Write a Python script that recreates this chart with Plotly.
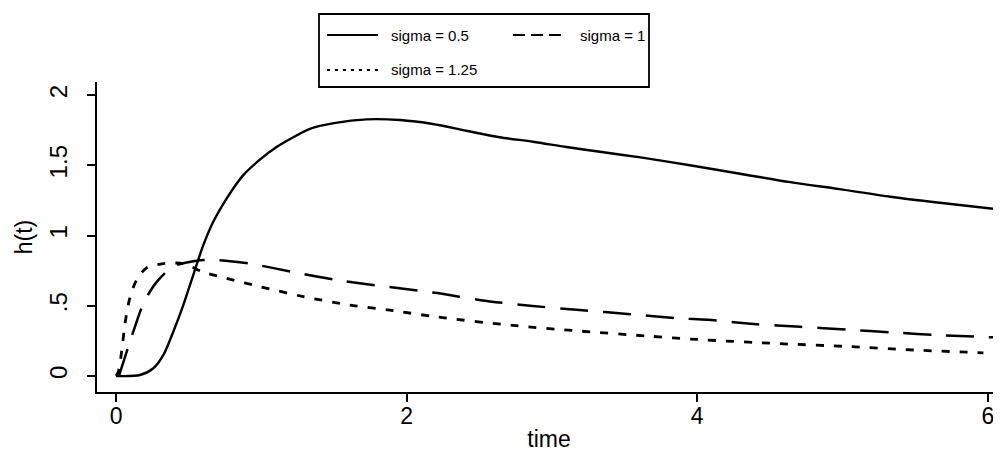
import plotly.graph_objects as go

# ---- data ----
t_s05 = [0, 0.165, 0.257, 0.326, 0.394, 0.463, 0.532, 0.60, 0.67, 0.762, 0.876, 0.99, 1.105, 1.22,
         1.335, 1.50, 1.725, 1.955, 2.18, 2.41, 2.64, 2.87, 3.10, 3.33, 3.61, 3.95, 4.295, 4.64,
         4.98, 5.33, 5.67, 6.04]
h_s05 = [0, 0.007, 0.055, 0.15, 0.315, 0.505, 0.72, 0.93, 1.10, 1.265, 1.43, 1.54, 1.63, 1.70,
         1.76, 1.80, 1.827, 1.822, 1.794, 1.746, 1.70, 1.668, 1.63, 1.596, 1.556, 1.50, 1.44, 1.38,
         1.33, 1.276, 1.233, 1.19]

t_s1 = [0.02, 0.085, 0.13, 0.19, 0.28, 0.394, 0.555, 0.69, 0.92, 1.22, 1.54, 1.86, 2.21, 2.51,
        2.85, 3.19, 3.54, 3.88, 4.07, 4.39, 4.71, 5.03, 5.35, 5.67, 6.05]
h_s1 = [0, 0.21, 0.35, 0.52, 0.67, 0.78, 0.82, 0.826, 0.80, 0.74, 0.68, 0.636, 0.59, 0.54,
        0.50, 0.47, 0.44, 0.41, 0.40, 0.37, 0.35, 0.33, 0.31, 0.29, 0.275]

t_s125 = [0.0, 0.016, 0.04, 0.062, 0.096, 0.14, 0.21, 0.326, 0.463, 0.60, 0.76, 0.99, 1.29, 1.61,
          1.91, 2.21, 2.73, 3.19, 3.65, 4.0, 4.57, 5.03, 5.49, 5.97]
h_s125 = [0.0, 0.03, 0.185, 0.375, 0.56, 0.68, 0.77, 0.80, 0.80, 0.74, 0.695, 0.636, 0.565, 0.505,
          0.465, 0.42, 0.36, 0.32, 0.285, 0.26, 0.23, 0.21, 0.185, 0.165]

legend_labels = ["sigma = 0.5", "sigma = 1", "sigma = 1.25"]
x_ticks = [0, 2, 4, 6]
y_ticks = [0, 0.5, 1, 1.5, 2]
y_ticktext = ["0", ".5", "1", "1.5", "2"]

# ---- figure (page has an 8px body margin) ----
OFF = 8
W, H = 1001 - OFF, 452 - OFF
ML, MR, MT, MB = 97 - OFF, 0, 82 - OFF, 60
PW, PH = W - ML - MR, H - MT - MB

def px(x):
    return (x - OFF - ML) / PW

def py(y):
    return (H - MB - (y - OFF)) / PH

FONT = "Liberation Sans, Arial, Helvetica, sans-serif"
NARROW = "Liberation Sans Narrow, Arial Narrow, Liberation Sans, Arial, sans-serif"

fig = go.Figure()
fig.add_trace(go.Scatter(x=t_s05, y=h_s05, mode="lines", name=legend_labels[0], showlegend=False,
                         line=dict(color="black", width=2.4, shape="spline", smoothing=0.8)))
fig.add_trace(go.Scatter(x=t_s1, y=h_s1, mode="lines", name=legend_labels[1], showlegend=False,
                         line=dict(color="black", width=2.5, dash="28px,15px", shape="spline", smoothing=0.8)))
fig.add_trace(go.Scatter(x=t_s125, y=h_s125, mode="lines", name=legend_labels[2], showlegend=False,
                         line=dict(color="black", width=2.8, dash="8px,10px", shape="spline", smoothing=0.8)))

# manual legend (box + samples + labels)
shapes = [dict(type="rect", xref="paper", yref="paper", x0=px(319), x1=px(649), y0=py(87), y1=py(14),
               line=dict(color="black", width=1.8), fillcolor="white", layer="above")]
entries = [(327, 378, 35, "solid", 389, legend_labels[0]),
           (513, 565, 35, "12px,6px", 578, legend_labels[1]),
           (327, 378, 70, "3px,5px", 389, legend_labels[2])]
annotations = []
for x0, x1, yy, dash, tx, lab in entries:
    shapes.append(dict(type="line", xref="paper", yref="paper", x0=px(x0), x1=px(x1), y0=py(yy), y1=py(yy),
                       line=dict(color="black", width=1.8, dash=dash), layer="above"))
    annotations.append(dict(xref="paper", yref="paper", x=px(tx), y=py(yy), text=lab, showarrow=False,
                            xanchor="left", yanchor="middle", font=dict(family=NARROW, size=15, color="black")))

fig.update_layout(
    width=W, height=H,
    margin=dict(l=ML, r=MR, t=MT, b=MB),
    paper_bgcolor="white", plot_bgcolor="white",
    showlegend=False,
    shapes=shapes, annotations=annotations,
    font=dict(family=FONT, color="black"),
    xaxis=dict(range=[-0.131, 6.091], tickvals=x_ticks, ticks="outside", ticklen=8, tickwidth=2,
               tickcolor="black", showline=True, linecolor="black", linewidth=2, showgrid=False,
               zeroline=False, tickfont=dict(size=23, family=FONT), ticklabelstandoff=-6,
               title=dict(text="time", font=dict(size=23, family=FONT), standoff=5)),
    yaxis=dict(range=[-0.114, 2.093], tickvals=y_ticks, ticktext=y_ticktext, tickangle=-90,
               ticks="outside", ticklen=8, tickwidth=2, tickcolor="black", showline=True,
               linecolor="black", linewidth=2, showgrid=False, zeroline=False,
               tickfont=dict(size=24, family=FONT), ticklabelstandoff=10,
               title=dict(text="h(t)", font=dict(size=23, family=FONT), standoff=6)),
)

fig.write_html("out.html")
